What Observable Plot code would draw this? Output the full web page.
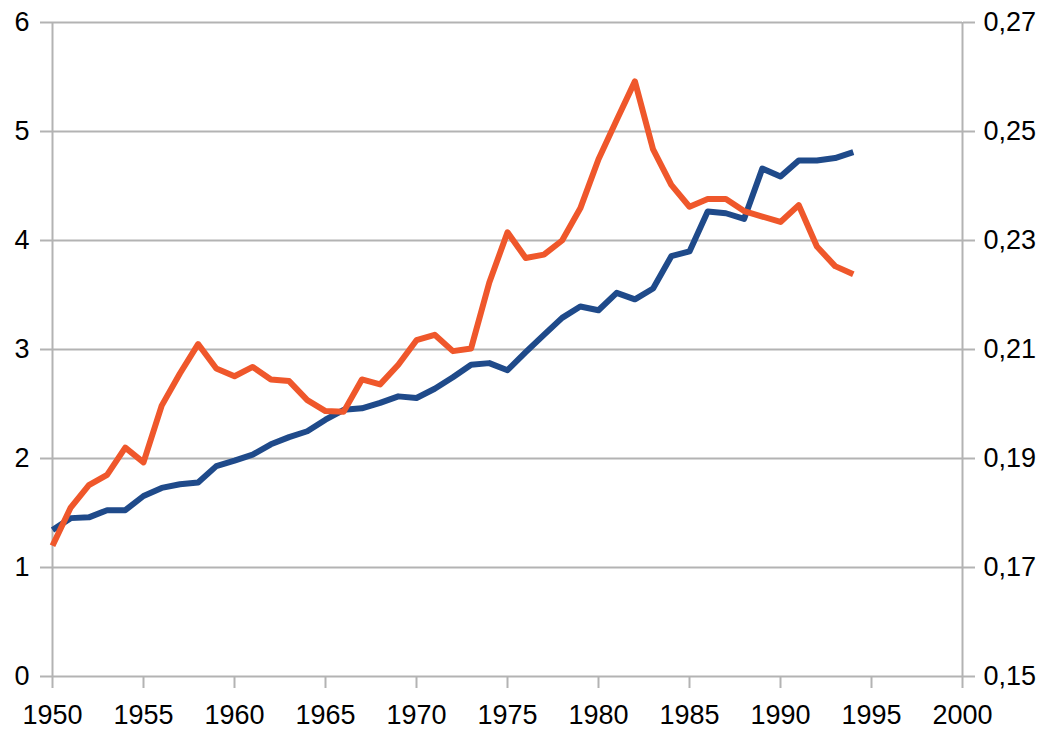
<!DOCTYPE html>
<html>
<head>
<meta charset="utf-8">
<script src="https://cdn.jsdelivr.net/npm/d3@7"></script>
<script src="https://cdn.jsdelivr.net/npm/@observablehq/plot@0.6"></script>
<style>
  html, body { margin: 0; padding: 0; background: #fff; }
  #chart svg { display: block; }
</style>
</head>
<body>
<div id="chart"></div>
<script>
const years = d3.range(1950, 1995);
// left axis series (blue)
const blueValues = [
  1.345, 1.453, 1.46, 1.526, 1.526, 1.656, 1.73, 1.764, 1.78, 1.93,
  1.98, 2.036, 2.13, 2.196, 2.25, 2.356, 2.447, 2.46, 2.51, 2.57,
  2.555, 2.64, 2.745, 2.86, 2.875, 2.81, 2.975, 3.134, 3.29, 3.394,
  3.36, 3.52, 3.46, 3.56, 3.856, 3.90, 4.267, 4.25, 4.198, 4.66,
  4.587, 4.734, 4.734, 4.756, 4.81
];
// right axis series (orange)
const orangeValues = [
  0.174, 0.181, 0.1851, 0.187, 0.192, 0.1893, 0.1997, 0.2056, 0.2110, 0.2065,
  0.2051, 0.2068, 0.2045, 0.2042, 0.2007, 0.1987, 0.1986, 0.2045, 0.2036, 0.2072,
  0.2117, 0.2127, 0.2097, 0.2102, 0.2223, 0.2315, 0.2268, 0.2274, 0.2300, 0.2359,
  0.2449, 0.2521, 0.2592, 0.2467, 0.2402, 0.2362, 0.2376, 0.2376, 0.2354, 0.2344,
  0.2334, 0.2365, 0.2289, 0.2253, 0.2238
];
const xTicks = [1950, 1955, 1960, 1965, 1970, 1975, 1980, 1985, 1990, 1995, 2000];
const leftTicks = [0, 1, 2, 3, 4, 5, 6];
const rightTicks = [0.15, 0.17, 0.19, 0.21, 0.23, 0.25, 0.27];
const rightMin = 0.15, rightStep = 0.02; // right axis: 0.15 + 0.02 per left unit

const blue = years.map((year, i) => ({year, v: blueValues[i]}));
const orange = years.map((year, i) => ({year, v: orangeValues[i]}));
const toLeft = v => (v - rightMin) / rightStep;

const gray = "#b3b3b3";
const chart = Plot.plot({
  width: 1054,
  height: 740,
  marginLeft: 52,
  marginRight: 92,
  marginTop: 22,
  marginBottom: 64,
  style: {fontFamily: "'Liberation Sans', Arial, sans-serif", fontSize: "27px", color: "#000", background: "#fff"},
  x: {domain: [1950, 2000]},
  y: {domain: [0, 6]},
  marks: [
    Plot.gridY(leftTicks, {stroke: gray, strokeOpacity: 1, strokeWidth: 2}),
    Plot.axisY(leftTicks, {anchor: "left", tickSize: 12, tickPadding: 11, stroke: gray, strokeWidth: 2, fill: "#000", fontSize: 27, label: null, tickFormat: d => String(d)}),
    Plot.axisY(leftTicks, {anchor: "right", tickSize: 12, tickPadding: 9, stroke: gray, strokeWidth: 2, fill: "#000", fontSize: 27, label: null,
      tickFormat: d => rightTicks[leftTicks.indexOf(d)].toFixed(2).replace(".", ",")}),
    Plot.axisX(xTicks, {anchor: "bottom", tickSize: 12, tickPadding: 16, stroke: gray, strokeWidth: 2, fill: "#000", fontSize: 27, label: null, tickFormat: d => String(d)}),
    Plot.ruleX([1950, 2000], {y1: 0, y2: 6, stroke: gray, strokeWidth: 2}),
    Plot.line(blue, {x: "year", y: "v", stroke: "#1f4a8a", strokeWidth: 6, strokeLinejoin: "round", strokeLinecap: "butt"}),
    Plot.line(orange, {x: "year", y: d => toLeft(d.v), stroke: "#ef572b", strokeWidth: 6, strokeLinejoin: "round", strokeLinecap: "butt"})
  ]
});
document.getElementById("chart").appendChild(chart);
</script>
</body>
</html>
